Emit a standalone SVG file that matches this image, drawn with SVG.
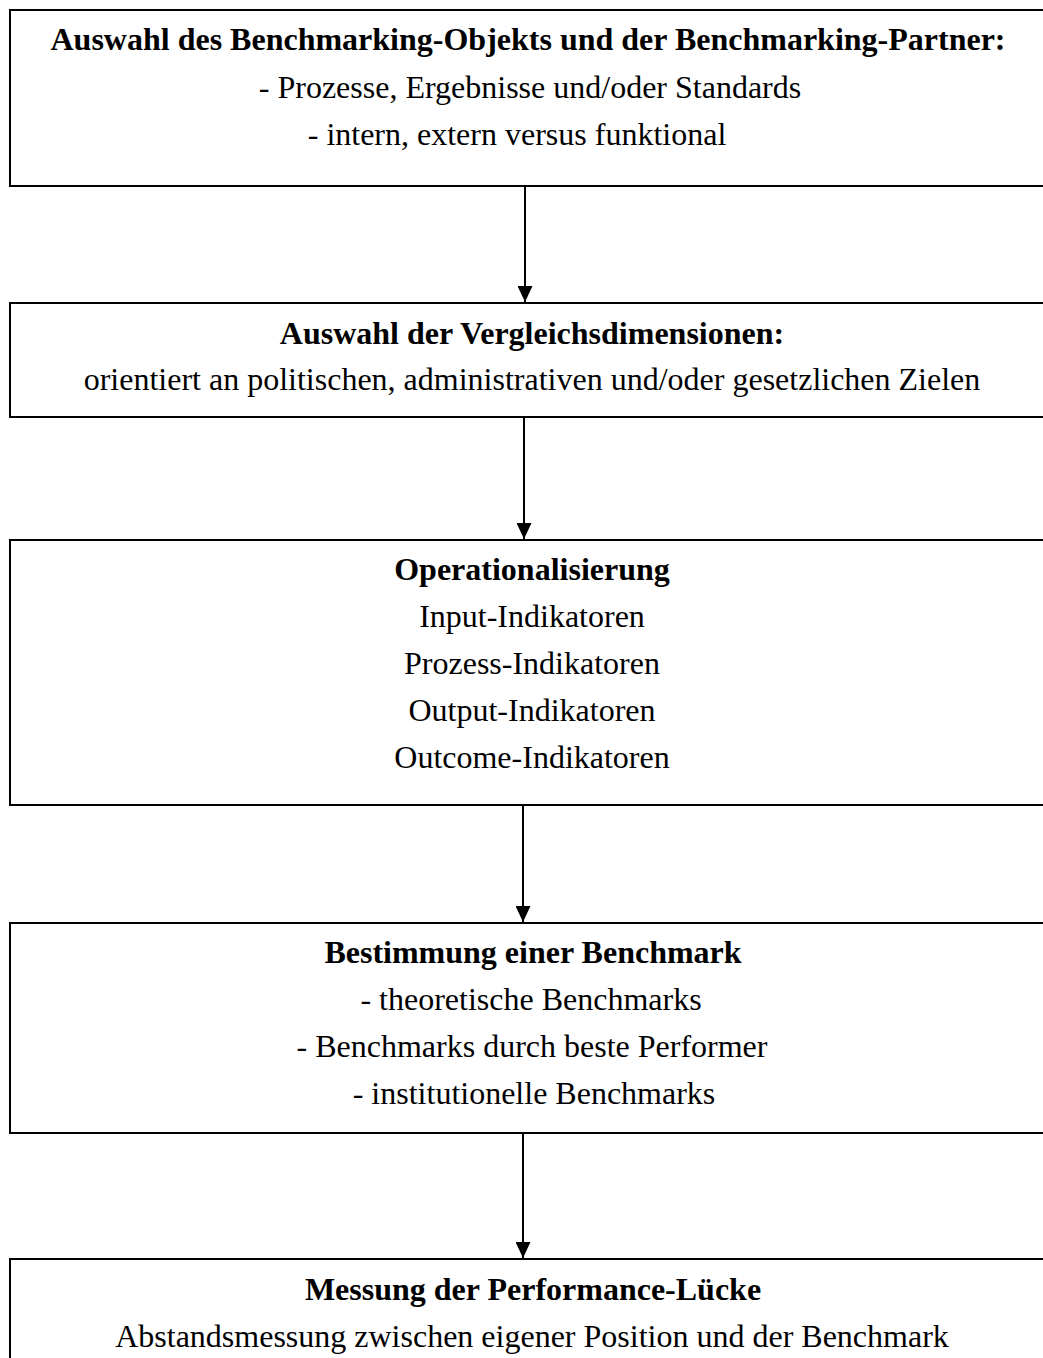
<svg xmlns="http://www.w3.org/2000/svg" width="1043" height="1358" viewBox="0 0 1043 1358">
<style>
.box{fill:#fff;stroke:#000;stroke-width:2}
text{font-family:"Liberation Serif","Times New Roman",serif;font-size:32px;fill:#000;text-anchor:middle}
.b{font-weight:bold}
.conn{stroke:#000;stroke-width:2;fill:none}
</style>
<defs>
<marker id="ah" markerWidth="16" markerHeight="15" refX="16" refY="7.5" orient="auto" markerUnits="userSpaceOnUse">
<path d="M0,0 L16,7.5 L0,15 Z" fill="#000"/>
</marker>
</defs>
<rect x="0" y="0" width="1043" height="1358" fill="#fff"/>
<g id="node1">
<rect class="box" x="10" y="10" width="1045" height="176"/>
<text class="b" x="528" y="50">Auswahl des Benchmarking-Objekts und der Benchmarking-Partner:</text>
<text x="530" y="98">- Prozesse, Ergebnisse und/oder Standards</text>
<text x="517" y="145">- intern, extern versus funktional</text>
</g>
<g id="node2">
<rect class="box" x="10" y="303" width="1045" height="114"/>
<text class="b" x="532" y="344">Auswahl der Vergleichsdimensionen:</text>
<text x="532" y="390">orientiert an politischen, administrativen und/oder gesetzlichen Zielen</text>
</g>
<g id="node3">
<rect class="box" x="10" y="540" width="1045" height="265"/>
<text class="b" x="532" y="580">Operationalisierung</text>
<text x="532" y="627">Input-Indikatoren</text>
<text x="532" y="674">Prozess-Indikatoren</text>
<text x="532" y="721">Output-Indikatoren</text>
<text x="532" y="768">Outcome-Indikatoren</text>
</g>
<g id="node4">
<rect class="box" x="10" y="923" width="1045" height="210"/>
<text class="b" x="533" y="963">Bestimmung einer Benchmark</text>
<text x="531" y="1010">- theoretische Benchmarks</text>
<text x="532" y="1057">- Benchmarks durch beste Performer</text>
<text x="534" y="1104">- institutionelle Benchmarks</text>
</g>
<g id="node5">
<rect class="box" x="10" y="1259" width="1045" height="120"/>
<text class="b" x="533" y="1300">Messung der Performance-Lücke</text>
<text x="532" y="1347">Abstandsmessung zwischen eigener Position und der Benchmark</text>
</g>
<g id="connectors">
<line class="conn" x1="525" y1="186" x2="525" y2="302" marker-end="url(#ah)"/>
<line class="conn" x1="524" y1="417" x2="524" y2="539" marker-end="url(#ah)"/>
<line class="conn" x1="523" y1="805" x2="523" y2="922" marker-end="url(#ah)"/>
<line class="conn" x1="523" y1="1133" x2="523" y2="1258" marker-end="url(#ah)"/>
</g>
</svg>
